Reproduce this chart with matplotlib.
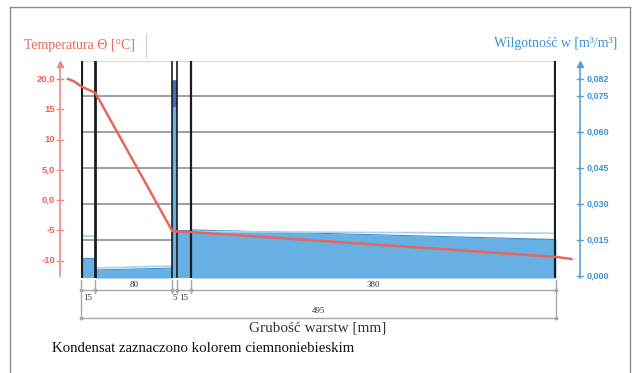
import matplotlib
matplotlib.use('Agg')
import matplotlib.pyplot as plt
import matplotlib.transforms as mtransforms
from matplotlib.lines import Line2D

# Layer data (mm)
layer_thickness = [15, 80, 5, 15, 380]
layer_bounds = [0, 15, 95, 100, 115, 495]
total_thickness = 495

# Temperature profile (position mm, temperature C)
temp_pos = [-13.5, -7, 0, 15, 95, 100, 115, 495, 511]
temp_val = [20.0, 19.6, 18.8, 17.7, -5.1, -5.2, -5.3, -9.4, -9.75]

# Moisture content per layer: (left value, right value)
moist_left = [0.0075, 0.0025, 0.0817, 0.0192, 0.0192]
moist_right = [0.0075, 0.0033, 0.0817, 0.0192, 0.0152]
# Condensate part of thin layer
cond_low, cond_high = 0.0705, 0.0817
# Maximum moisture (light lines)
max_left = [0.0167, 0.0033, None, None, 0.0185]
max_right = [0.0167, 0.0042, None, None, 0.0178]

temp_ticks = [20, 15, 10, 5, 0, -5, -10]
temp_labels = ['20,0', '15', '10', '5,0', '0,0', '-5', '-10']
moist_ticks = [0.082, 0.075, 0.060, 0.045, 0.030, 0.015, 0.000]
moist_labels = ['0,082', '0,075', '0,060', '0,045', '0,030', '0,015', '0,000']
grid_levels = [0.015, 0.030, 0.045, 0.060, 0.075]

W, H = 632, 373
RED = '#e8675a'
BLUE = '#3b93d3'
FILL = '#66b0e4'

fig = plt.figure(figsize=(W / 100, H / 100), dpi=100)


def fx(px):
    return px / W


def fy(py):
    return 1 - py / H


# Plot area in pixels
L, R, T, B = 81, 556, 61, 278
ax = fig.add_axes([fx(L), fy(B), fx(R) - fx(L), fy(T) - fy(B)])
ax.set_xlim(0, total_thickness)
# humidity axis: 0 at y=276 px, 2400 px per unit
ax.set_ylim(-(B - 276) / 2400, (276 - T) / 2400)

axt = ax.twinx()
# temperature axis: 20 C at y=79 px, 6.05 px per degree
axt.set_ylim(20 - (B - 79) / 6.05, 20 + (79 - T) / 6.05)

# Grid lines
for g in grid_levels:
    ax.axhline(g, color='#999999', lw=1.3, zorder=1)
ax.axhline((276 - T) / 2400, color='#dddddd', lw=1, zorder=1)

# Moisture fills
ybot = ax.get_ylim()[0]
for i in range(len(layer_thickness)):
    x0, x1 = layer_bounds[i], layer_bounds[i + 1]
    ax.fill_between([x0, x1], [moist_left[i], moist_right[i]], ybot,
                    color=FILL, lw=0, zorder=2)
    ax.plot([x0, x1], [moist_left[i], moist_right[i]], color='#3f8fcf',
            lw=0.8, zorder=3)
    if max_left[i] is not None:
        ax.plot([x0, x1], [max_left[i], max_right[i]], color='#a9d3f0',
                lw=1.2, zorder=3)
ax.fill_between([95, 100], [cond_high, cond_high], [cond_low, cond_low],
                color='#3a6fb8', lw=0, zorder=2)

# Layer boundary lines
widths = [3, 2, 1.2, 1.2, 1.6, 3]
for xb, lw in zip(layer_bounds, widths):
    ax.axvline(xb, color='#1c1c1c', lw=lw, zorder=4)

# Temperature line
axt.plot(temp_pos, temp_val, color=RED, lw=1.8, clip_on=False, zorder=5)

# Axis styling
for a in (ax, axt):
    for s in a.spines.values():
        s.set_visible(False)
    a.set_xticks([])
ax.set_yticks([])
axt.set_yticks([])

# Left temperature axis (drawn manually outside the plot)
lx = 60
tr_left = mtransforms.blended_transform_factory(fig.transFigure, axt.transData)
fig.add_artist(Line2D([fx(lx), fx(lx)], [fy(B - 2), fy(T + 2)], color='#ec8a80',
                      lw=1.2, transform=fig.transFigure))
fig.add_artist(Line2D([fx(lx)], [fy(T + 3)], marker='^', ms=5, color='#ec8a80',
                      transform=fig.transFigure))
for t, lab in zip(temp_ticks, temp_labels):
    fig.add_artist(Line2D([fx(lx - 3), fx(lx + 3)], [t, t], color='#ec8a80',
                          lw=1, transform=tr_left))
    fig.text(fx(lx - 5), t, lab, transform=tr_left, ha='right', va='center',
             fontsize=6.8, color=RED, family='Liberation Sans', weight='bold')

# Right moisture axis
rx = 580
tr_right = mtransforms.blended_transform_factory(fig.transFigure, ax.transData)
fig.add_artist(Line2D([fx(rx), fx(rx)], [fy(B), fy(T + 2)], color='#5a9fd4',
                      lw=1.2, transform=fig.transFigure))
fig.add_artist(Line2D([fx(rx)], [fy(T + 3)], marker='^', ms=5, color='#5a9fd4',
                      transform=fig.transFigure))
for m, lab in zip(moist_ticks, moist_labels):
    fig.add_artist(Line2D([fx(rx - 3), fx(rx + 3)], [m, m], color='#5a9fd4',
                          lw=1, transform=tr_right))
    fig.text(fx(rx + 7), m, lab, transform=tr_right, ha='left', va='center',
             fontsize=6.5, color=BLUE, family='Liberation Sans', weight='bold')

# Titles
fig.text(fx(24), fy(45), 'Temperatura Θ [°C]', ha='left', va='center',
         fontsize=10, color=RED, family='Liberation Serif')
fig.text(fx(617), fy(43), 'Wilgotność w [m³/m³]', ha='right', va='center',
         fontsize=10, color=BLUE, family='Liberation Serif')
fig.add_artist(Line2D([fx(146), fx(146)], [fy(34), fy(57)], color='#d6d6d6',
                      lw=1, transform=fig.transFigure))

# Dimension lines below the plot
trd = mtransforms.blended_transform_factory(ax.transData, fig.transFigure)
dim_col = '#a8a8a8'
fig.add_artist(Line2D([0, total_thickness], [fy(290), fy(290)], color=dim_col,
                      lw=1, transform=trd))
fig.add_artist(Line2D([0, total_thickness], [fy(318), fy(318)], color=dim_col,
                      lw=1, transform=trd))
for xb in layer_bounds:
    y_end = 319 if xb in (0, total_thickness) else 293
    fig.add_artist(Line2D([xb, xb], [fy(280), fy(y_end)], color=dim_col,
                          lw=1, transform=trd))
    fig.add_artist(Line2D([xb], [fy(290)], marker='o', ms=1.8, color=dim_col,
                          transform=trd))
for xb in (0, total_thickness):
    fig.add_artist(Line2D([xb], [fy(318)], marker='o', ms=1.8, color=dim_col,
                          transform=trd))

dim_font = dict(fontsize=6.5, color='#333333', family='Liberation Serif',
                ha='center', va='center', transform=trd)
fig.text(7.5, fy(298), '15', **dim_font)
fig.text(55, fy(285), '80', **dim_font)
fig.text(97.5, fy(298), '5', **dim_font)
fig.text(107.5, fy(298), '15', **dim_font)
fig.text(305, fy(285), '380', **dim_font)
fig.text(247.5, fy(311), '495', **dim_font)

fig.text(fx(318), fy(328), 'Grubość warstw [mm]', ha='center', va='center',
         fontsize=11, color='#333333', family='Liberation Serif')
fig.text(fx(52), fy(348), 'Kondensat zaznaczono kolorem ciemnoniebieskim',
         ha='left', va='center', fontsize=10.7, color='#111111',
         family='Liberation Serif')

# Outer frame
frame_col = '#8c8c8c'
fig.add_artist(Line2D([fx(10), fx(630)], [fy(7), fy(7)], color=frame_col, lw=1,
                      transform=fig.transFigure))
fig.add_artist(Line2D([fx(10), fx(10)], [fy(7), 0], color=frame_col, lw=1,
                      transform=fig.transFigure))
fig.add_artist(Line2D([fx(630), fx(630)], [fy(7), 0], color=frame_col, lw=1,
                      transform=fig.transFigure))

fig.savefig('out.png', dpi=100)
